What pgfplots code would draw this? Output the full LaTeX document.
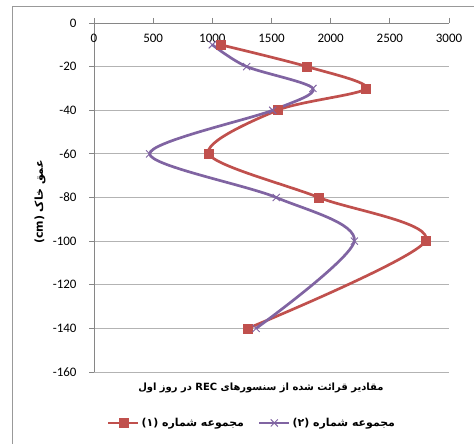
\documentclass[border=0pt]{standalone}
\usepackage{pgfplots}
\pgfplotsset{compat=1.18}
\usepackage{fontspec}
\setmainfont{Carlito}
\newfontfamily\arabicfont[Script=Arabic]{DejaVu Sans}
\TeXXeTstate=1
\definecolor{serA}{HTML}{C0504D}
\definecolor{serB}{HTML}{8064A2}
\definecolor{gridc}{HTML}{B3B3B3}
\definecolor{axisc}{HTML}{868686}

% depth (cm) vs. sensor reading
\pgfplotstableread{
x y
1070 -10
1800 -20
2300 -30
1550 -40
970 -60
1900 -80
2800 -100
1300 -140
}\setA
\pgfplotstableread{
x y
1000 -10
1290 -20
1850 -30
1510 -40
470 -60
1540 -80
2200 -100
1370 -140
}\setB

\begin{document}
\begin{tikzpicture}[x=1bp,y=1bp]
\path[use as bounding box] (0,0) rectangle (474,444);
\draw[gray!80, line width=1bp] (12,0) -- (12,437) -- (474,437);
\begin{axis}[
  at={(94bp,72bp)}, anchor=south west,
  scale only axis, width=355bp, height=349bp,
  xmin=0, xmax=3000, ymin=-160, ymax=0,
  axis x line*=top, axis y line*=left,
  xtick={0,500,...,3000}, ytick={-160,-140,...,0},
  ymajorgrids, grid style={gridc, line width=0.8bp},
  axis line style={axisc, line width=0.8bp},
  tick style={axisc, line width=0.8bp},
  tick align=outside, major tick length=5bp,
  font=\fontsize{13}{15}\selectfont,
  /pgf/number format/assume math mode=true,
  /pgf/number format/1000 sep={},
  xticklabel style={anchor=center, yshift=-20bp},
  yticklabel style={xshift=-9bp},
  xlabel={\arabicfont\bfseries\beginR مقادیر قرائت شده از سنسورهای \beginL REC\endL{} در روز اول\endR},
  xlabel style={at={(axis description cs:0.47,-0.046)}, anchor=center, font=\fontsize{10}{12}\selectfont},
  ylabel={\arabicfont\bfseries\beginR عمق خاک \beginL(cm)\endL\endR},
  ylabel style={at={(axis description cs:-0.152,0.487)}, anchor=center, font=\fontsize{11}{13}\selectfont},
  legend style={draw=none, fill=none, at={(0.445,-0.146)}, anchor=center,
    legend columns=2, font=\fontsize{11}{13}\selectfont,
    /tikz/every even column/.append style={column sep=12bp}},
  legend image code/.code={\draw[mark repeat=2,mark phase=2,#1] plot coordinates {(0bp,0bp) (15bp,0bp) (30bp,0bp)};},
]
\addplot[serA, line width=2.7bp, smooth, mark=square*, mark size=4.5bp, mark options={solid, line width=0.5bp}] table {\setA};
\addlegendentry{\arabicfont\bfseries\beginR مجموعه شماره (۱)\endR}
\addplot[serB, line width=2.7bp, smooth, mark=x, mark size=5bp, mark options={solid, line width=1bp}] table {\setB};
\addlegendentry{\arabicfont\bfseries\beginR مجموعه شماره (۲)\endR}
\end{axis}
\end{tikzpicture}
\end{document}
